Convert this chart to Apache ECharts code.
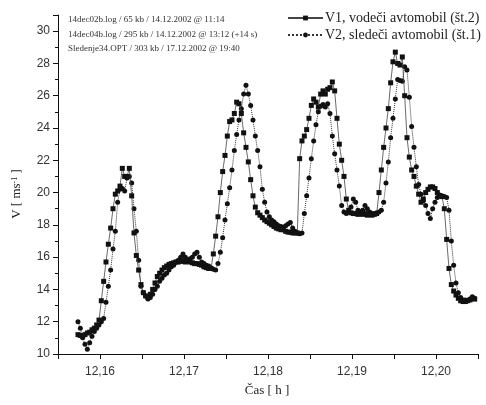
<!DOCTYPE html>
<html>
<head>
<meta charset="utf-8">
<script src="https://cdn.jsdelivr.net/npm/echarts@6/dist/echarts.min.js"></script>
<style>
  html, body { margin: 0; padding: 0; background: #fff; }
  #chart { width: 486px; height: 405px; }
</style>
</head>
<body>
<div id="chart"></div>
<script>
// Speed log of two cars in a car-following run, sampled once per second.
const sampleStart = 12.15738;     // first sample [h]
const sampleStep = 1 / 3600;      // 1 s in hours

const seriesNames = ['V1, vodeči avtomobil (št.2)', 'V2, sledeči avtomobil (št.1)'];

// V1 – leading car [m/s]
const v1Speed = [
  11.2, 11.15, 11.1, 11.2, 11.3, 11.35, 11.5, 11.6, 11.8, 12.1,
  13.3, 14.5, 15.7, 16.8, 17.8, 19.0, 19.9, 20.1, 20.4, 21.5,
  21.0, 21.0, 21.5, 19.8, 17.5, 16.1, 15.2, 14.3, 13.8, 13.6,
  13.5, 13.7, 14.0, 14.4, 14.8, 15.0, 15.2, 15.35, 15.45, 15.55,
  15.6, 15.65, 15.7, 15.7, 15.75, 15.75, 15.7, 15.75, 15.7, 15.65,
  15.6, 15.6, 15.55, 15.5, 15.4, 15.35, 15.3, 15.3, 16.2, 17.3,
  18.5, 20.0, 21.3, 22.3, 23.5, 24.4, 24.5, 24.9, 25.6, 25.5,
  24.9, 23.7, 22.8, 21.9, 20.8, 19.8, 19.1, 18.75, 18.6, 18.45,
  18.3, 18.2, 18.1, 18.0, 17.9, 17.8, 17.75, 17.7, 17.7, 17.6,
  17.55, 17.55, 17.5, 17.5, 17.5, 22.1, 23.2, 23.5, 23.9, 24.6,
  25.4, 25.8, 25.6, 25.3, 26.1, 26.3, 26.1, 26.4, 26.5, 26.85,
  26.3, 24.6, 23.0, 22.0, 21.0, 19.6, 18.9, 18.75, 18.7, 18.7,
  18.65, 18.7, 18.65, 18.7, 18.6, 18.65, 18.6, 18.65, 18.7, 20.0,
  21.4, 22.8, 24.0, 25.2, 26.8, 28.1, 28.7, 28.0, 27.9, 28.4,
  26.0, 23.4, 22.2, 21.4, 21.0, 20.4, 19.9, 19.4, 19.6, 20.0,
  20.2, 20.35, 20.35, 20.25, 20.0, 19.8, 19.75, 19.0, 17.1, 15.3,
  14.3, 13.9, 13.65, 13.45, 13.3, 13.25, 13.25, 13.3, 13.35, 13.45,
  13.4
];

// V2 – following car [m/s]
const v2Speed = [
  12.0, 11.6, 11.0, 10.6, 10.3, 10.7, 11.1, 11.4, 11.6, 11.8,
  12.0, 12.2, 13.2, 14.2, 15.2, 16.5, 17.6, 19.4, 20.2, 20.25,
  20.1, 20.9, 21.0, 20.6, 19.0, 17.6, 15.8, 14.2, 13.8, 13.6,
  13.4, 13.5, 13.7, 14.0, 14.2, 14.5, 14.7, 14.9, 15.0, 15.2,
  15.4, 15.5, 15.7, 15.8, 16.0, 16.2, 16.0, 15.8, 15.9, 16.0,
  16.2, 16.3, 16.0, 15.7, 15.6, 15.5, 15.45, 15.35, 15.25, 15.2,
  15.6, 16.3, 17.2, 18.3, 19.3, 20.3, 21.4, 22.6, 23.6, 24.5,
  25.2, 26.1, 26.65, 26.1, 25.4, 24.5, 23.5, 22.6, 21.6, 20.2,
  19.4, 18.8, 18.5, 18.3, 18.2, 18.05, 17.95, 17.9, 17.85, 17.95,
  18.05, 18.15, 17.8, 17.6, 17.5, 17.45, 17.5, 18.7, 19.8, 20.9,
  22.1, 23.2, 24.2, 25.0, 25.35, 25.45, 25.3, 25.5, 24.9, 23.5,
  22.4, 21.4, 20.4, 19.2, 18.8, 18.7, 18.8, 19.1, 19.6, 19.4,
  18.9, 18.8, 18.9, 19.2, 19.0, 18.8, 18.7, 18.7, 18.75, 18.8,
  18.9, 19.4, 20.6, 21.9, 23.4, 24.6, 25.8, 27.0, 26.95, 26.9,
  27.8, 27.6, 25.9, 24.1, 22.8, 21.6, 20.5, 19.9, 19.5, 19.2,
  18.7, 18.4, 19.0, 19.4, 19.7, 19.85, 19.8, 19.75, 19.7, 18.9,
  17.0, 15.5, 14.4, 13.8, 13.5, 13.35, 13.35, 13.3, 13.4, 13.55,
  13.45
];

// Axis ranges and tick spacing
const xMin = 12.155, xMax = 12.205, xStep = 0.005;
const yMin = 10, yMax = 31, yStep = 2;

const infoLines = [
  '14dec02b.log / 65 kb / 14.12.2002 @ 11:14',
  '14dec04b.log / 295 kb / 14.12.2002 @ 13:12 (+14 s)',
  'Sledenje34.OPT / 303 kb / 17.12.2002 @ 19:40'
];

function toPairs(values) {
  return values.map((v, i) => [sampleStart + i * sampleStep, v]);
}

const serif = '"Liberation Serif", "Times New Roman", serif';
const sans = '"Liberation Sans", Arial, sans-serif';

const chart = echarts.init(document.getElementById('chart'), null, { renderer: 'canvas' });

chart.setOption({
  animation: false,
  backgroundColor: '#ffffff',
  grid: { left: 58, right: 8, top: 15, bottom: 51, containLabel: false },
  legend: {
    orient: 'vertical',
    left: 282,
    top: 6,
    itemWidth: 35,
    itemHeight: 6,
    itemGap: 3,
    textStyle: { fontFamily: serif, fontSize: 14, color: '#222', padding: [0, 0, 0, -3] },
    data: seriesNames
  },
  xAxis: {
    type: 'value',
    min: xMin,
    max: xMax,
    interval: xStep,
    axisLine: { show: true, onZero: false, lineStyle: { color: '#111', width: 1 } },
    axisTick: { show: true, inside: false, length: 5, lineStyle: { color: '#111' } },
    splitLine: { show: false },
    axisLabel: {
      margin: 12,
      fontFamily: sans,
      fontSize: 12,
      color: '#333',
      formatter: function (v) {
        const k = Math.round(v * 1000);
        if (k % 10 !== 0) return '';
        return v.toFixed(2).replace('.', ',');
      }
    }
  },
  yAxis: {
    type: 'value',
    min: yMin,
    max: yMax,
    interval: yStep,
    axisLine: { show: true, onZero: false, lineStyle: { color: '#111', width: 1 } },
    axisTick: { show: true, inside: false, length: 5, lineStyle: { color: '#111' } },
    minorTick: { show: true, splitNumber: 2, length: 3, lineStyle: { color: '#111' } },
    splitLine: { show: false },
    axisLabel: {
      margin: 8,
      fontFamily: sans,
      fontSize: 12,
      color: '#333',
      formatter: function (v) { return v > 30 ? '' : String(v); }
    }
  },
  graphic: [
    {
      type: 'text',
      left: 68, top: 12,
      style: {
        text: infoLines.join('\n'),
        fontFamily: serif,
        fontSize: 9,
        lineHeight: 14.8,
        fill: '#333'
      }
    },
    {
      type: 'text',
      x: 267, y: 391,
      style: {
        text: 'Čas [ h ]',
        fontFamily: serif,
        fontSize: 13,
        fill: '#222',
        align: 'center',
        verticalAlign: 'middle'
      }
    },
    {
      type: 'text',
      x: 17, y: 194,
      rotation: Math.PI / 2,
      style: {
        text: '{t|V [ ms}{s|-1}{t| ]}',
        align: 'center',
        verticalAlign: 'middle',
        rich: {
          t: { fontFamily: serif, fontSize: 13, fill: '#222', color: '#222' },
          s: { fontFamily: serif, fontSize: 8, fill: '#222', color: '#222', verticalAlign: 'top' }
        }
      }
    }
  ],
  series: [
    {
      name: seriesNames[0],
      type: 'line',
      data: toPairs(v1Speed),
      symbol: 'rect',
      symbolSize: 5,
      showAllSymbol: true,
      lineStyle: { color: '#444', width: 0.8, type: 'solid' },
      itemStyle: { color: '#111' },
      z: 3
    },
    {
      name: seriesNames[1],
      type: 'line',
      data: toPairs(v2Speed),
      symbol: 'circle',
      symbolSize: 5,
      showAllSymbol: true,
      lineStyle: { color: '#333', width: 1, type: 'dotted' },
      itemStyle: { color: '#111' },
      z: 2
    }
  ]
});
</script>
</body>
</html>
